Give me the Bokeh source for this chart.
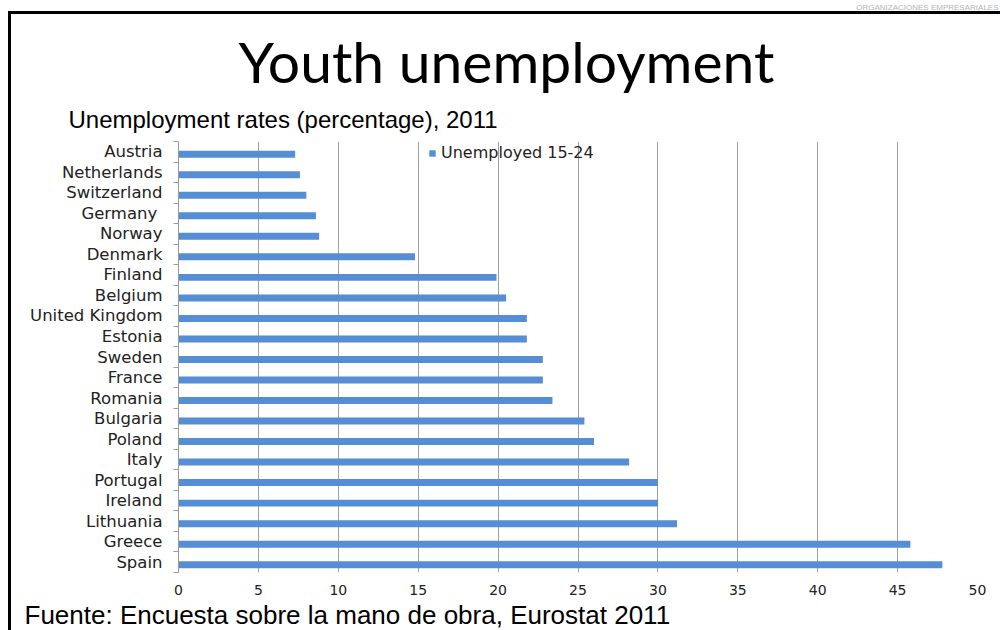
from bokeh.plotting import figure
from bokeh.models import (Range1d, FixedTicker, ColumnDataSource, Legend,
                          LegendItem, Title)
from bokeh.embed import file_html
from bokeh.resources import INLINE

countries = ["Austria", "Netherlands", "Switzerland", "Germany ", "Norway", "Denmark",
             "Finland", "Belgium", "United Kingdom", "Estonia", "Sweden", "France",
             "Romania", "Bulgaria", "Poland", "Italy", "Portugal", "Ireland",
             "Lithuania", "Greece", "Spain"]
rates = [7.3, 7.6, 8.0, 8.6, 8.8, 14.8, 19.9, 20.5, 21.8, 21.8, 22.8, 22.8,
         23.4, 25.4, 26.0, 28.2, 30.0, 30.0, 31.2, 45.8, 47.8]
x_ticks = [0, 5, 10, 15, 20, 25, 30, 35, 40, 45, 50]
series_name = "Unemployed 15-24"
title_text = "Youth unemployment"
subtitle_text = "Unemployment rates (percentage), 2011"
source_text = "Fuente: Encuesta sobre la mano de obra, Eurostat 2011"
corner_text = "ORGANIZACIONES EMPRESARIALES"

BLUE = "#558ed5"
n = len(countries)
W, H = 1000, 630
LEFT, RIGHT, TOP, BOTTOM = 178, 23, 141, 58

pos = list(range(n))
src = ColumnDataSource(dict(y=[q + 0.12 for q in pos], right=rates, name=countries))

p = figure(width=W, height=H, output_backend="svg", toolbar_location=None,
           x_range=Range1d(0, 50), y_range=Range1d(n - 0.5, -0.5),
           min_border_left=LEFT, min_border_right=RIGHT,
           min_border_top=TOP, min_border_bottom=BOTTOM)
p.outline_line_color = None
p.background_fill_color = "white"
p.border_fill_color = None
p.styles = {
    "background": ("linear-gradient(#000,#000) 9px 11px / 991px 3px no-repeat, "
                   "linear-gradient(#000,#000) 8px 11px / 3px 619px no-repeat, white"),
}

r = p.hbar(y="y", left=0, right="right", height=0.34, source=src,
           fill_color=BLUE, line_color=None)

# x axis
p.xaxis.ticker = FixedTicker(ticks=x_ticks)
p.xaxis.axis_line_color = None
p.xaxis.major_tick_line_color = None
p.xaxis.major_tick_out = 0
p.xaxis.major_tick_in = 0
p.xaxis.minor_tick_line_color = None
p.xaxis.major_label_text_font = "DejaVu Sans"
p.xaxis.major_label_text_font_size = "14px"
p.xaxis.major_label_text_color = "#222222"
p.xaxis.major_label_standoff = 12
p.xgrid.ticker = FixedTicker(ticks=x_ticks)
p.xgrid.grid_line_color = "#a0a0a0"
p.xgrid.grid_line_width = 1
p.ygrid.grid_line_color = None

# y axis
p.yaxis.ticker = FixedTicker(ticks=pos, minor_ticks=[i - 0.5 for i in range(n + 1)])
p.yaxis.major_label_overrides = {i: c for i, c in enumerate(countries)}
p.yaxis.major_tick_line_color = None
p.yaxis.major_tick_out = 0
p.yaxis.major_tick_in = 0
p.yaxis.minor_tick_line_color = "#999999"
p.yaxis.minor_tick_out = 5
p.yaxis.minor_tick_in = 0
p.yaxis.axis_line_color = "#999999"
p.yaxis.major_label_text_font = "DejaVu Sans"
p.yaxis.major_label_text_font_size = "16.5px"
p.yaxis.major_label_text_color = "#222222"
p.yaxis.major_label_standoff = 11

legend = Legend(items=[LegendItem(label=series_name, renderers=[r])],
                location=(250, 431 - 21), orientation="vertical",
                background_fill_alpha=0, border_line_color=None,
                glyph_width=8, glyph_height=8, padding=0, margin=0,
                label_text_font="DejaVu Sans", label_text_font_size="16px",
                label_standoff=5, label_text_color="#222222", label_height=8)
p.add_layout(legend, "center")

# texts outside the plotting frame (stacked upward from the frame)
p.add_layout(Title(text=subtitle_text, align="left", offset=68 - LEFT,
                   text_font="Liberation Sans", text_font_size="24px",
                   text_font_style="normal", text_color="black", standoff=18), "above")
p.add_layout(Title(text=title_text, align="left", offset=238 - LEFT,
                   text_font="Lato", text_font_size="57px",
                   text_font_style="normal", text_color="black", standoff=0), "above")
# vertical spacer so that the small corner note sits at the very top
p.add_layout(Title(text=" ", text_font_size="1px", standoff=8), "above")
p.add_layout(Title(text=corner_text, align="right", offset=-21, vertical_align="top",
                   text_font="Liberation Sans", text_font_size="8px",
                   text_font_style="normal", text_color="#b4b4b4", standoff=0), "above")
p.add_layout(Title(text=source_text, align="left", offset=24 - LEFT,
                   text_font="Liberation Sans", text_font_size="26px",
                   text_font_style="normal", text_color="black", standoff=0), "below")

open("out.html", "w").write(file_html(p, INLINE))
